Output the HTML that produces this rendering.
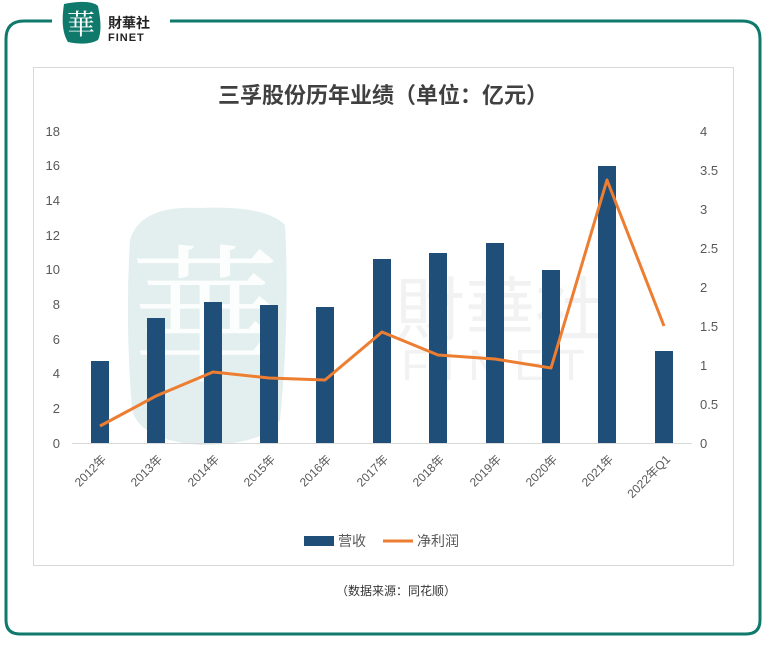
<!DOCTYPE html>
<html><head><meta charset="utf-8"><style>
html,body{margin:0;padding:0;background:#fff;}
svg{display:block;font-family:"Liberation Sans","Noto Sans CJK SC",sans-serif;}
</style></head><body>
<svg width="765" height="656" viewBox="0 0 765 656" xmlns="http://www.w3.org/2000/svg">
<rect width="765" height="656" fill="#fff"/>
<path d="M52 21 H24 Q6 21 6 39 V620 Q6 634 20 634 H746 Q760 634 760 620 V39 Q760 21 742 21 H170" fill="none" stroke="#0f7a6c" stroke-width="3"/>
<path d="M64 4 Q90 -1 98 6 Q103 30 98 40 Q88 46 68 42 Q60 30 64 4Z" fill="#0f7a6c"/>
<text x="81" y="34" font-size="28" fill="#fff" text-anchor="middle" font-family="Noto Serif CJK SC,serif">華</text>
<text x="108" y="28" font-size="14" font-weight="bold" fill="#222">財華社</text>
<text x="108" y="41" font-size="11" font-weight="bold" fill="#222" letter-spacing="1">FINET</text>
<rect x="33.5" y="67.5" width="700" height="498" fill="#fff" stroke="#d9d9d9"/>
<path d="M130 240 Q140 205 200 208 Q265 205 285 225 Q290 320 280 420 Q265 445 200 445 Q140 440 132 410 Q125 320 130 240Z" fill="#e2efee"/>
<text x="205" y="370" font-size="150" fill="#fff" text-anchor="middle" font-family="Noto Serif CJK SC,serif" opacity="0.9">華</text>
<text x="500" y="335" font-size="70" fill="#f2f2f2" text-anchor="middle">財華社</text>
<text x="500" y="380" font-size="44" fill="#f2f2f2" text-anchor="middle" letter-spacing="14">FINET</text>
<text x="383" y="103" font-size="22" font-weight="bold" fill="#404040" text-anchor="middle" font-family="Noto Sans CJK SC,sans-serif">三孚股份历年业绩（单位：亿元）</text>
<g font-size="13" fill="#595959" text-anchor="end">
<text x="60" y="448">0</text><text x="60" y="413">2</text><text x="60" y="378">4</text><text x="60" y="344">6</text><text x="60" y="309">8</text><text x="60" y="274">10</text><text x="60" y="240">12</text><text x="60" y="205">14</text><text x="60" y="170">16</text><text x="60" y="136">18</text>
</g>
<g font-size="13" fill="#595959" text-anchor="start">
<text x="700" y="448">0</text><text x="700" y="409">0.5</text><text x="700" y="370">1</text><text x="700" y="331">1.5</text><text x="700" y="292">2</text><text x="700" y="253">2.5</text><text x="700" y="214">3</text><text x="700" y="175">3.5</text><text x="700" y="136">4</text>
</g>
<line x1="72" y1="443.5" x2="692" y2="443.5" stroke="#d9d9d9"/>
<g fill="#1f4e79">
<rect x="91" y="361" width="18" height="82"/>
<rect x="147" y="318" width="18" height="125"/>
<rect x="204" y="302" width="18" height="141"/>
<rect x="260" y="305" width="18" height="138"/>
<rect x="316" y="307" width="18" height="136"/>
<rect x="373" y="259" width="18" height="184"/>
<rect x="429" y="253" width="18" height="190"/>
<rect x="486" y="243" width="18" height="200"/>
<rect x="542" y="270" width="18" height="173"/>
<rect x="598" y="166" width="18" height="277"/>
<rect x="655" y="351" width="18" height="92"/>
</g>
<polyline points="100,426 156,396 213,372 269,378 325,380 382,332 438,355 495,359 551,368 607,180 664,326" fill="none" stroke="#ed7d31" stroke-width="3" stroke-linejoin="round"/>
<g font-size="12" fill="#595959" text-anchor="end">
<text transform="translate(107,460) rotate(-45)">2012年</text>
<text transform="translate(163,460) rotate(-45)">2013年</text>
<text transform="translate(220,460) rotate(-45)">2014年</text>
<text transform="translate(276,460) rotate(-45)">2015年</text>
<text transform="translate(332,460) rotate(-45)">2016年</text>
<text transform="translate(389,460) rotate(-45)">2017年</text>
<text transform="translate(445,460) rotate(-45)">2018年</text>
<text transform="translate(502,460) rotate(-45)">2019年</text>
<text transform="translate(558,460) rotate(-45)">2020年</text>
<text transform="translate(614,460) rotate(-45)">2021年</text>
<text transform="translate(671,460) rotate(-45)">2022年Q1</text>
</g>
<rect x="304" y="536" width="30" height="10" fill="#1f4e79"/>
<text x="338" y="546" font-size="14" fill="#595959">营收</text>
<line x1="383" y1="541" x2="413" y2="541" stroke="#ed7d31" stroke-width="3"/>
<text x="417" y="546" font-size="14" fill="#595959">净利润</text>
<text x="396" y="595" font-size="12" fill="#333" text-anchor="middle">（数据来源：同花顺）</text>
</svg>
</body></html>
